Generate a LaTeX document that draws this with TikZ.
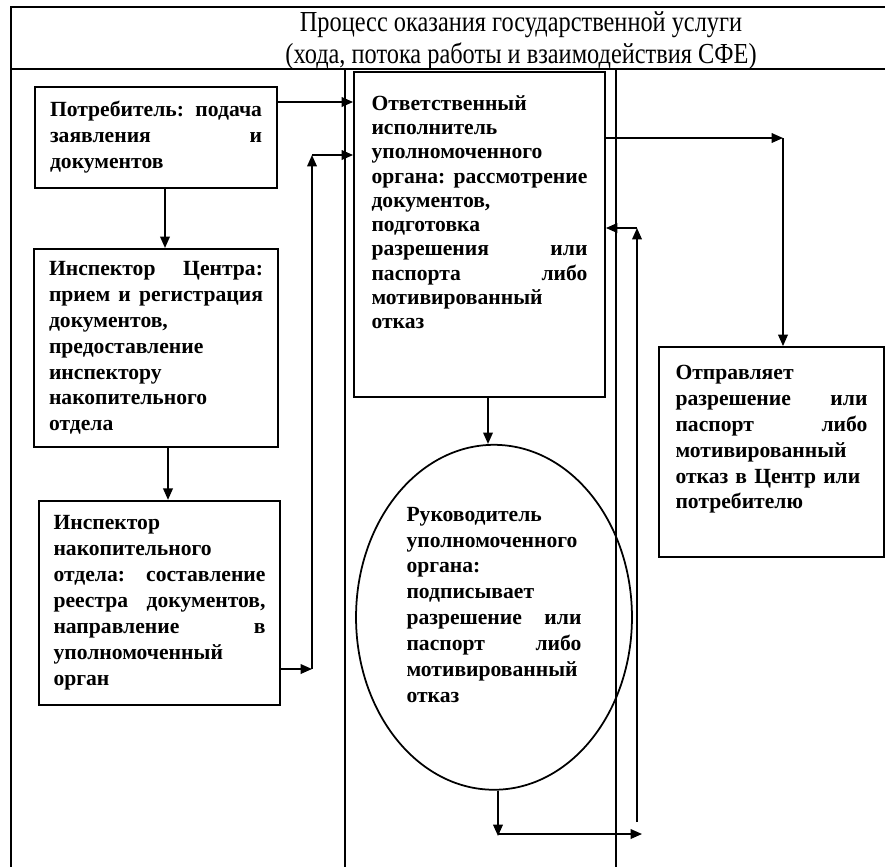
\documentclass[tikz,border=0pt]{standalone}
\usepackage{fontspec}
\setmainfont{Liberation Serif}
\newfontfamily\titlefont[FakeStretch=0.84]{Liberation Serif}
\usetikzlibrary{arrows.meta,positioning,shapes.geometric}

% justified line and bottom padding inside a box
\newcommand{\jl}[1]{\leavevmode\hbox to \hsize{\spaceskip=.25em plus 1fil\xspaceskip=\spaceskip #1}}
\newcommand{\padb}[1]{\rule[-#1]{0pt}{#1}}

\begin{document}
\begin{tikzpicture}[
    x=0.02cm, y=-0.02cm,
    font=\fontsize{12.3}{14.75}\selectfont\bfseries,
    procBox/.style={
        rectangle, draw=black, line width=1.1pt, align=left, inner sep=0pt
    },
    headBox/.style={
        ellipse, draw=black, line width=1pt, align=left, inner sep=0pt
    },
    titleText/.style={
        font=\titlefont\fontsize{16.5}{18.1}\selectfont, align=center, inner sep=0pt
    },
    laneLine/.style={line width=0.9pt, draw=black},
    flowArrow/.style={
        -{Triangle[length=6.5pt, width=5.5pt]}, line width=0.9pt, draw=black
    }
]
\useasboundingbox (0,0) rectangle (885,867);

% Frame and lanes
\draw[laneLine] (10,7) -- (885,7);
\draw[laneLine] (10,69) -- (885,69);
\draw[laneLine] (11,7) -- (11,867);
\draw[laneLine] (345,69) -- (345,867);
\draw[laneLine] (616,69) -- (616,867);

\node[titleText] (title) at (521,41) {Процесс оказания государственной услуги\\
    (хода, потока работы и взаимодействия СФЕ)};

% Nodes
\node[procBox, text width=4.24cm, minimum width=4.84cm, minimum height=2.02cm] (cons) at (156,137.5) {
    \jl{Потребитель: подача}\\ \jl{заявления и}\\ документов
};

\node[procBox, text width=4.28cm, minimum width=4.88cm, minimum height=3.96cm, below=1.18cm of cons] (inspC) {
    \jl{Инспектор Центра:}\\ \jl{прием и регистрация}\\ документов,\\ предоставление\\ инспектору\\ накопительного\\ отдела
};

\node[procBox, text width=4.24cm, minimum width=4.82cm, minimum height=4.08cm, below=1.04cm of inspC, xshift=0.07cm] (nakop) {
    Инспектор\\ накопительного\\ \jl{отдела: составление}\\ \jl{реестра документов,}\\ \jl{направление в}\\ уполномоченный\\ орган
};

\node[procBox, text width=4.32cm, minimum width=5.02cm, minimum height=6.5cm,
      font=\fontsize{12.3}{13.8}\selectfont\bfseries] (otv) at (479.5,234.5) {
    Ответственный\\ исполнитель\\ уполномоченного\\ \jl{органа: рассмотрение}\\ документов,\\ подготовка\\ \jl{разрешения или}\\ \jl{паспорта либо}\\ мотивированный\\ отказ\padb{0.9cm}
};

\node[headBox, text width=3.5cm, minimum width=5.52cm, minimum height=6.9cm, below=0.92cm of otv, xshift=0.29cm] (ruk) {
    Руководитель\\ уполномоченного\\ органа:\\ подписывает\\ \jl{разрешение или}\\ \jl{паспорт либо}\\ мотивированный\\ отказ\padb{0.5cm}
};

\node[procBox, text width=3.84cm, minimum width=4.5cm, minimum height=4.2cm] (otpr) at (771.5,452) {
    Отправляет\\ \jl{разрешение или}\\ \jl{паспорт либо}\\ мотивированный\\ отказ в Центр или\\ потребителю\padb{0.6cm}
};

% Bends of the connectors
\coordinate (rowA) at (0,102);
\coordinate (colA) at (165,0);
\coordinate (colB) at (168,0);
\coordinate (colC) at (488,0);
\coordinate (jA) at (312,669);
\coordinate (jB) at (312,155);
\coordinate (jC) at (783,138);
\coordinate (jD) at (498,836);
\coordinate (jE) at (642,834);
\coordinate (jF) at (637,822);
\coordinate (jG) at (637,228);

% Transitions
\draw[flowArrow] (cons.east |- rowA) -- (otv.west |- rowA);
\draw[flowArrow] (cons.south -| colA) -- (inspC.north -| colA);
\draw[flowArrow] (inspC.south -| colB) -- (nakop.north -| colB);
\draw[flowArrow] (nakop.east |- jA) -- (jA);
\draw[flowArrow] (jA) -- (jB);
\draw[flowArrow] (jB) -- (otv.west |- jB);
\draw[flowArrow] (otv.east |- jC) -- (jC);
\draw[flowArrow] (jC) -- (otpr.north -| jC);
\draw[flowArrow] (otv.south -| colC) -- (ruk.north -| colC);
\draw[flowArrow] (ruk.south -| jD) -- (jD);
\draw[flowArrow] (jD |- jE) -- (jE);
\draw[flowArrow] (jF) -- (jG);
\draw[flowArrow] (jG) -- (otv.east |- jG);

\end{tikzpicture}
\end{document}
